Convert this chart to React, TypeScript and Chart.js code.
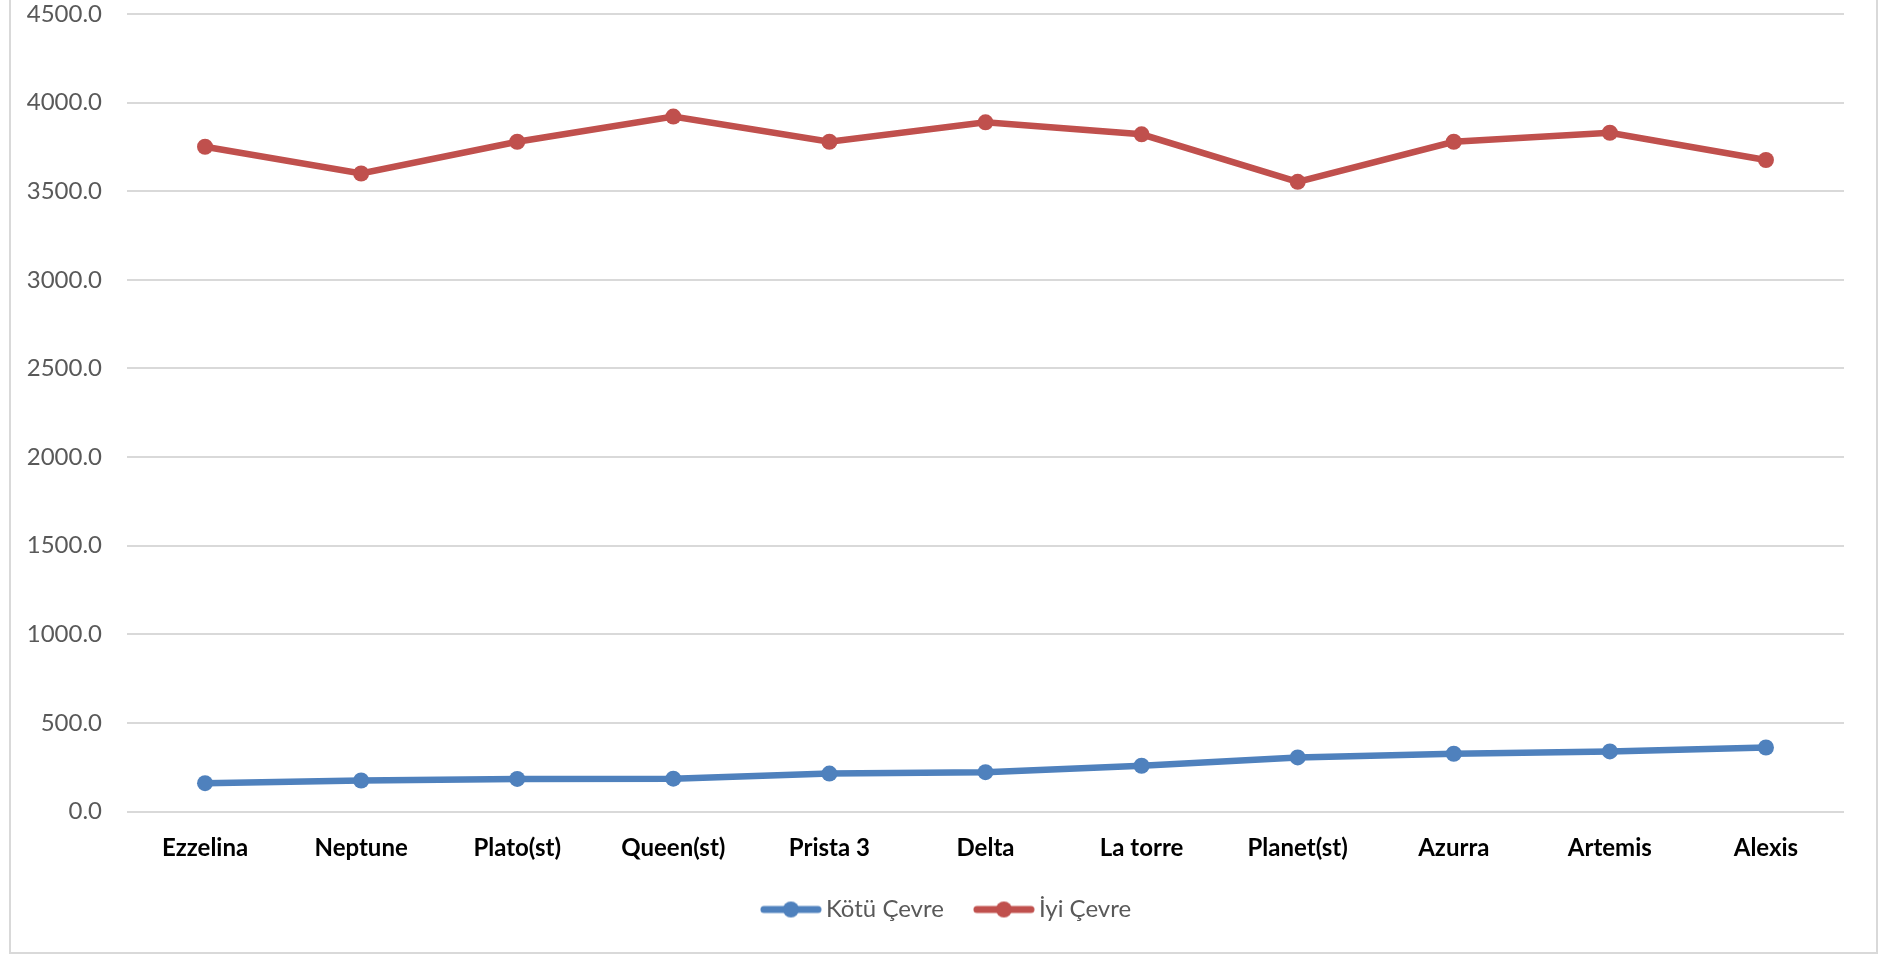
import React, { useEffect, useRef } from "react";
import { Chart, registerables } from "chart.js";

Chart.register(...registerables);

const categories = ["Ezzelina", "Neptune", "Plato(st)", "Queen(st)", "Prista 3", "Delta", "La torre", "Planet(st)", "Azurra", "Artemis", "Alexis"];
const kotuCevre = [160, 175, 184, 185, 214, 222, 258, 305, 326, 339, 361];
const iyiCevre = [3751, 3600, 3779, 3921, 3779, 3889, 3821, 3553, 3779, 3830, 3676];
const seriesNames = ["Kötü Çevre", "İyi Çevre"];
const seriesColors = ["#4F81BD", "#C0504D"];
const yMin = 0;
const yMax = 4500;
const yStep = 500;

const FONT = "Lato, 'Open Sans', sans-serif";

function makeSwatch(color: string): HTMLCanvasElement {
  const c = document.createElement("canvas");
  c.width = 62;
  c.height = 18;
  const ctx = c.getContext("2d")!;
  ctx.strokeStyle = color;
  ctx.lineWidth = 7;
  ctx.lineCap = "round";
  ctx.beginPath();
  ctx.moveTo(4, 9);
  ctx.lineTo(58, 9);
  ctx.stroke();
  ctx.fillStyle = color;
  ctx.beginPath();
  ctx.arc(31, 9, 8, 0, Math.PI * 2);
  ctx.fill();
  return c;
}

const framePlugin = {
  id: "frame",
  beforeDraw(chart: any) {
    const { ctx, width, height } = chart;
    ctx.save();
    ctx.fillStyle = "#ffffff";
    ctx.fillRect(0, 0, width, height);
    ctx.strokeStyle = "#d9d9d9";
    ctx.lineWidth = 2;
    ctx.beginPath();
    ctx.moveTo(10, -5);
    ctx.lineTo(10, height - 2);
    ctx.lineTo(1877, height - 2);
    ctx.lineTo(1877, -5);
    ctx.stroke();
    ctx.restore();
  },
};

export default function App() {
  const ref = useRef<HTMLCanvasElement | null>(null);

  useEffect(() => {
    if (!ref.current) return;
    const swatches = seriesColors.map(makeSwatch);
    const lineDs = (i: number, data: number[]) => ({
      label: seriesNames[i],
      data,
      borderColor: seriesColors[i],
      backgroundColor: seriesColors[i],
      borderWidth: 6.5,
      pointRadius: 8,
      pointBorderWidth: 0,
      pointBackgroundColor: seriesColors[i],
      tension: 0,
      yAxisID: "y",
    });
    const chart = new Chart(ref.current, {
      type: "line",
      data: {
        labels: categories,
        datasets: [lineDs(0, kotuCevre), lineDs(1, iyiCevre)],
      },
      options: {
        animation: false,
        responsive: false,
        maintainAspectRatio: false,
        layout: { padding: { top: 14, left: 15, right: 0, bottom: 23.5 } },
        plugins: {
          tooltip: { enabled: false },
          legend: {
            position: "bottom",
            labels: {
              usePointStyle: true,
              pointStyleWidth: 46,
              padding: 37,
              color: "#595959",
              font: { family: FONT, size: 24 },
              generateLabels: (ch: any) =>
                ch.data.datasets.map((ds: any, i: number) => ({
                  text: ds.label,
                  fillStyle: seriesColors[i],
                  strokeStyle: seriesColors[i],
                  lineWidth: 0,
                  pointStyle: swatches[i],
                  fontColor: "#595959",
                  hidden: false,
                  datasetIndex: i,
                })),
            },
          },
        },
        scales: {
          x: {
            offset: true,
            grid: { display: false, drawTicks: false },
            border: { display: false },
            ticks: {
              color: "#000000",
              padding: 22,
              maxRotation: 0,
              autoSkip: false,
              font: { family: FONT, size: 24, weight: "bold" },
            },
            afterFit: (scale: any) => {
              scale.height = 49;
            },
          },
          y: {
            min: yMin,
            max: yMax,
            grid: { color: "#d9d9d9", lineWidth: 2, drawTicks: false },
            border: { display: false },
            ticks: {
              stepSize: yStep,
              padding: 25,
              color: "#595959",
              font: { family: FONT, size: 24 },
              callback: (v: any) => Number(v).toFixed(1),
            },
            afterFit: (scale: any) => {
              scale.width = 112;
              scale.paddingTop = 0;
              scale.paddingBottom = 0;
            },
          },
          y2: {
            position: "right",
            min: yMin,
            max: yMax,
            grid: { display: false, drawTicks: false },
            border: { display: false },
            ticks: { display: false },
            afterFit: (scale: any) => {
              scale.width = 40;
              scale.paddingTop = 0;
              scale.paddingBottom = 0;
            },
          },
        },
      },
      plugins: [framePlugin],
    });
    return () => chart.destroy();
  }, []);

  return (
    <div style={{ position: "absolute", left: 0, top: 0, width: 1884, height: 955, background: "#fff" }}>
      <canvas ref={ref} width={1884} height={955} style={{ width: 1884, height: 955, display: "block" }} />
    </div>
  );
}
